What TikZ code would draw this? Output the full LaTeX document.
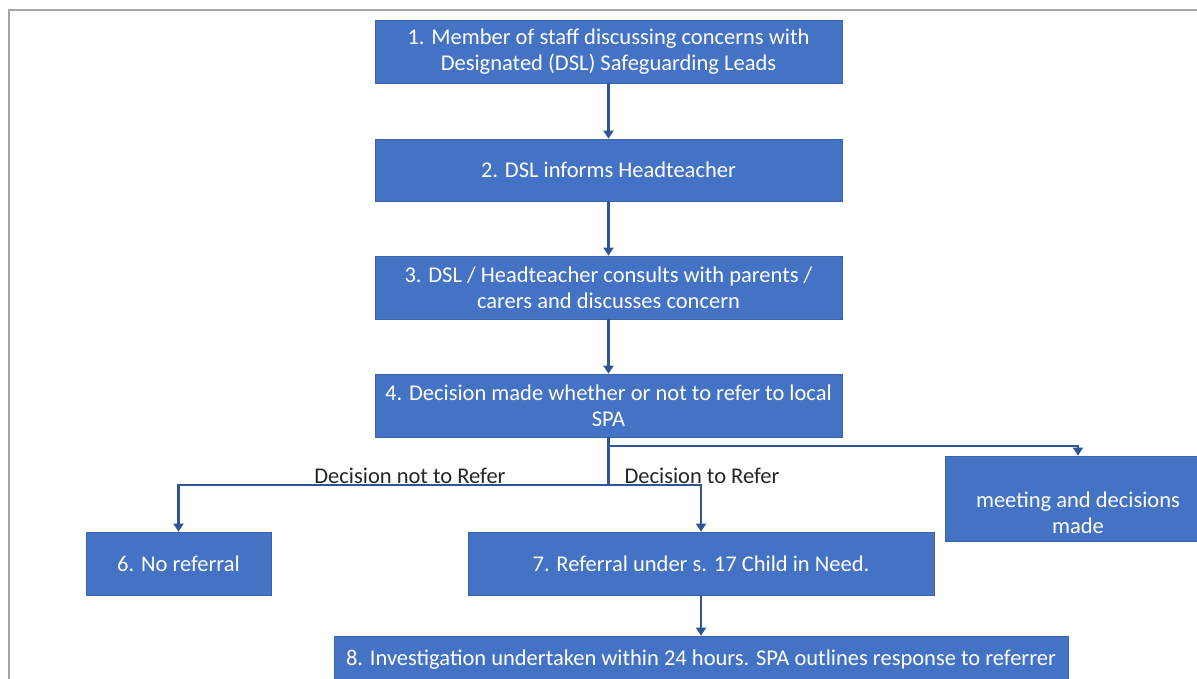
\documentclass[tikz,border=0pt]{standalone}
\usepackage{fontspec}
\setmainfont{Carlito}
\usetikzlibrary{arrows.meta}
\definecolor{boxblue}{HTML}{4472C4}
\definecolor{boxedge}{HTML}{3A64B0}
\definecolor{arrowblue}{HTML}{2F5597}
\definecolor{framegray}{HTML}{A6A6A6}
\begin{document}
\begin{tikzpicture}[x=1pt,y=-1pt,
  flowbox/.style={rectangle, fill=boxblue, draw=boxedge, line width=0.8pt,
    text=white, font=\fontsize{22.5}{26}\selectfont, align=center, inner sep=2pt},
  flowarrow/.style={draw=arrowblue, line width=2.6pt,
    -{Triangle[width=10pt,length=8pt]}},
  flowline/.style={draw=arrowblue, line width=2.6pt},
  branchlabel/.style={text=black!85, font=\fontsize{22.5}{26}\selectfont, inner sep=0pt}]
\useasboundingbox (0,0) rectangle (1197,678);
\fill[white] (0,0) rectangle (1197,678);
\draw[framegray, line width=2pt] (9,700) -- (9,10) -- (1210,10);

\node[flowbox, minimum width=467pt, minimum height=63pt] (b1) at (608.5,51.5)
  {1. Member of staff discussing concerns with\\Designated (DSL) Safeguarding Leads};
\node[flowbox, minimum width=467pt, minimum height=62pt] (b2) at (608.5,170)
  {2. DSL informs Headteacher};
\node[flowbox, minimum width=467pt, minimum height=63pt] (b3) at (608.5,287.5)
  {3. DSL / Headteacher consults with parents /\\carers and discusses concern};
\node[flowbox, minimum width=467pt, minimum height=63pt] (b4) at (608.5,405.5)
  {4. Decision made whether or not to refer to local\\SPA};
\node[flowbox, minimum width=185pt, minimum height=63pt] (b6) at (178.5,563.5)
  {6. No referral};
\node[flowbox, minimum width=466pt, minimum height=63pt] (b7) at (701,563.5)
  {7. Referral under s. 17 Child in Need.};
\node[flowbox, minimum width=734pt, minimum height=48pt] (b8) at (701,660)
  {8. Investigation undertaken within 24 hours. SPA outlines response to referrer};
\node[flowbox, minimum width=266pt, minimum height=85pt] (b5) at (1078,498.5)
  {\rule{0pt}{44pt}meeting and decisions\\made};

\draw[flowarrow] (b1.south) -- (b2.north);
\draw[flowarrow] (b2.south) -- (b3.north);
\draw[flowarrow] (b3.south) -- (b4.north);

\coordinate (split) at (608.5,485);
\coordinate (upper) at (608.5,446);
\draw[flowline] (b4.south) -- (split);
\draw[flowarrow] (split) -| (b6.north);
\draw[flowarrow] (split) -| (b7.north);
\draw[flowarrow] (upper) -| (b5.north);
\draw[flowarrow] (b7.south) -- (b8.north);

\node[branchlabel] (l1) at (410,476) {Decision not to Refer};
\node[branchlabel] (l2) at (702,476) {Decision to Refer};
\end{tikzpicture}
\end{document}
